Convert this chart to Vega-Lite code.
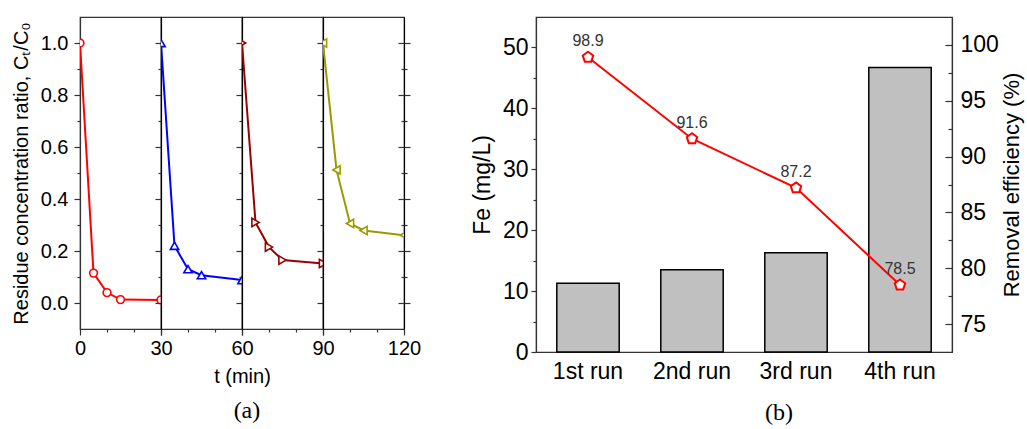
{
  "$schema": "https://vega.github.io/schema/vega-lite/v6.json",
  "padding": {"left": 10, "top": 16, "right": 3, "bottom": 2},
  "background": "white",
  "config": {
    "font": "Liberation Sans",
    "view": {"stroke": "#333", "strokeWidth": 1.2},
    "axis": {"grid": false, "labelColor": "#000", "titleColor": "#000", "titleFontWeight": "normal", "labelFlush": false, "labelOverlap": false, "domainColor": "#333", "tickColor": "#333", "domainWidth": 1.2, "tickWidth": 1.2}
  },
  "datasets": {
    "kinetics": [
      {"run": 1, "t": 0, "r": 1.0}, {"run": 1, "t": 5, "r": 0.115}, {"run": 1, "t": 10, "r": 0.04}, {"run": 1, "t": 15, "r": 0.013}, {"run": 1, "t": 30, "r": 0.012},
      {"run": 2, "t": 30, "r": 1.0}, {"run": 2, "t": 35, "r": 0.22}, {"run": 2, "t": 40, "r": 0.13}, {"run": 2, "t": 45, "r": 0.107}, {"run": 2, "t": 60, "r": 0.088},
      {"run": 3, "t": 60, "r": 1.0}, {"run": 3, "t": 65, "r": 0.31}, {"run": 3, "t": 70, "r": 0.215}, {"run": 3, "t": 75, "r": 0.165}, {"run": 3, "t": 90, "r": 0.152},
      {"run": 4, "t": 90, "r": 1.0}, {"run": 4, "t": 95, "r": 0.512}, {"run": 4, "t": 100, "r": 0.306}, {"run": 4, "t": 105, "r": 0.279}, {"run": 4, "t": 120, "r": 0.261}
    ],
    "runs": [
      {"run": "1st run", "fe": 11.3, "eff": 98.9},
      {"run": "2nd run", "fe": 13.5, "eff": 91.6},
      {"run": "3rd run", "fe": 16.3, "eff": 87.2},
      {"run": "4th run", "fe": 46.7, "eff": 78.5}
    ]
  },
  "hconcat": [
    {
      "hconcat": [
        {
          "width": 81, "height": 312,
          "data": {"name": "kinetics"},
          "transform": [{"filter": "datum.run === 1"}],
          "encoding": {
            "x": {"field": "t", "type": "quantitative", "scale": {"domain": [0, 30], "nice": false, "zero": false},
              "axis": {"values": [0, 10, 20, 30], "labelExpr": "datum.value % 30 === 0 ? datum.label : ''", "tickSize": {"condition": {"test": "datum.value % 30 === 0", "value": 6}, "value": 3}, "title": null, "labelFontSize": 20, "labelPadding": 3}},
            "y": {"field": "r", "type": "quantitative", "scale": {"domain": [-0.1, 1.1], "nice": false, "zero": false},
              "axis": {"values": [0, 0.1, 0.2, 0.3, 0.4, 0.5, 0.6, 0.7, 0.8, 0.9, 1.0], "labelExpr": "round(datum.value*10) % 2 === 0 ? format(datum.value, '.1f') : ''", "tickSize": {"condition": {"test": "round(datum.value*10) % 2 === 0", "value": 6}, "value": 3}, "title": "Residue concentration ratio, Cₜ/C₀", "labelFontSize": 20, "titleFontSize": 20, "labelPadding": 6, "titlePadding": 9}}
          },
          "layer": [
            {"mark": {"type": "line", "color": "#ff0000", "strokeWidth": 2, "clip": true}},
            {"mark": {"type": "point", "shape": "circle", "filled": true, "fill": "white", "stroke": "#ff0000", "strokeWidth": 1.6, "size": 60, "opacity": 1, "clip": true}}
          ]
        },
        {
          "width": 81, "height": 312,
          "data": {"name": "kinetics"},
          "transform": [{"filter": "datum.run === 2"}],
          "encoding": {
            "x": {"field": "t", "type": "quantitative", "scale": {"domain": [30, 60], "nice": false, "zero": false},
              "axis": {"values": [30, 40, 50, 60], "labelExpr": "datum.value === 60 ? datum.label : ''", "tickSize": {"condition": {"test": "datum.value % 30 === 0", "value": 6}, "value": 3}, "title": "t (min)", "titleX": 81, "titleAlign": "center", "titleFontSize": 20, "titlePadding": 8, "labelFontSize": 20, "labelPadding": 3}},
            "y": {"field": "r", "type": "quantitative", "scale": {"domain": [-0.1, 1.1], "nice": false, "zero": false},
              "axis": {"values": [0, 0.1, 0.2, 0.3, 0.4, 0.5, 0.6, 0.7, 0.8, 0.9, 1.0], "labels": false, "tickSize": {"condition": {"test": "round(datum.value*10) % 2 === 0", "value": 6}, "value": 3}, "title": null, "domainColor": "#000"}}
          },
          "layer": [
            {"mark": {"type": "line", "color": "#0000ff", "strokeWidth": 2, "clip": true}},
            {"mark": {"type": "point", "shape": "triangle-up", "filled": true, "fill": "white", "stroke": "#0000ff", "strokeWidth": 1.6, "size": 70, "opacity": 1, "clip": true}}
          ]
        },
        {
          "width": 81, "height": 312,
          "data": {"name": "kinetics"},
          "transform": [{"filter": "datum.run === 3"}],
          "encoding": {
            "x": {"field": "t", "type": "quantitative", "scale": {"domain": [60, 90], "nice": false, "zero": false},
              "axis": {"values": [60, 70, 80, 90], "labelExpr": "datum.value === 90 ? datum.label : ''", "tickSize": {"condition": {"test": "datum.value % 30 === 0", "value": 6}, "value": 3}, "title": null, "labelFontSize": 20, "labelPadding": 3}},
            "y": {"field": "r", "type": "quantitative", "scale": {"domain": [-0.1, 1.1], "nice": false, "zero": false},
              "axis": {"values": [0, 0.1, 0.2, 0.3, 0.4, 0.5, 0.6, 0.7, 0.8, 0.9, 1.0], "labels": false, "tickSize": {"condition": {"test": "round(datum.value*10) % 2 === 0", "value": 6}, "value": 3}, "title": null, "domainColor": "#000"}}
          },
          "layer": [
            {"mark": {"type": "line", "color": "#990000", "strokeWidth": 2, "clip": true}},
            {"mark": {"type": "point", "shape": "triangle-right", "filled": true, "fill": "white", "stroke": "#990000", "strokeWidth": 1.6, "size": 70, "opacity": 1, "clip": true}}
          ]
        },
        {
          "width": 81, "height": 312,
          "data": {"name": "kinetics"},
          "transform": [{"filter": "datum.run === 4"}],
          "encoding": {
            "x": {"field": "t", "type": "quantitative", "scale": {"domain": [90, 120], "nice": false, "zero": false},
              "axis": {"values": [90, 100, 110, 120], "labelExpr": "datum.value === 120 ? datum.label : ''", "tickSize": {"condition": {"test": "datum.value % 30 === 0", "value": 6}, "value": 3}, "title": null, "labelFontSize": 20, "labelPadding": 3}},
            "y": {"field": "r", "type": "quantitative", "scale": {"domain": [-0.1, 1.1], "nice": false, "zero": false},
              "axis": {"values": [0, 0.1, 0.2, 0.3, 0.4, 0.5, 0.6, 0.7, 0.8, 0.9, 1.0], "labels": false, "tickSize": {"condition": {"test": "round(datum.value*10) % 2 === 0", "value": 6}, "value": 3}, "title": null, "domainColor": "#000"}}
          },
          "layer": [
            {"mark": {"type": "line", "color": "#9a9a00", "strokeWidth": 2, "clip": true}},
            {"mark": {"type": "point", "shape": "triangle-left", "filled": true, "fill": "white", "stroke": "#9a9a00", "strokeWidth": 1.6, "size": 70, "opacity": 1, "clip": true}},
            {"mark": {"type": "point", "opacity": 0},
              "encoding": {"y": {"field": "r", "type": "quantitative", "scale": {"domain": [-0.1, 1.1], "nice": false, "zero": false},
                "axis": {"orient": "right", "values": [0, 0.1, 0.2, 0.3, 0.4, 0.5, 0.6, 0.7, 0.8, 0.9, 1.0], "labels": false, "title": null, "domain": false, "tickSize": {"condition": {"test": "round(datum.value*10) % 2 === 0", "value": -6}, "value": -3}}}}}
          ],
          "resolve": {"axis": {"y": "independent"}}
        }
      ],
      "spacing": 0,
      "bounds": "flush",
      "title": {"text": "(a)", "orient": "bottom", "anchor": "middle", "font": "Liberation Serif", "fontSize": 24, "fontWeight": "normal", "color": "#000", "dx": 31, "offset": 12}
    },
    {
      "width": 416, "height": 335,
      "data": {"name": "runs"},
      "encoding": {
        "x": {"field": "run", "type": "nominal", "sort": null, "scale": {"paddingInner": 0.4, "paddingOuter": 0.2},
          "axis": {"labelAngle": 0, "ticks": false, "title": null, "labelFontSize": 23, "labelPadding": 8}}
      },
      "layer": [
        {"mark": {"type": "bar", "fill": "#c0c0c0", "stroke": "#000", "strokeWidth": 1.5},
          "encoding": {"y": {"field": "fe", "type": "quantitative", "scale": {"domain": [0, 55], "nice": false},
            "axis": {"values": [0, 5, 10, 15, 20, 25, 30, 35, 40, 45, 50], "labelExpr": "datum.value % 10 === 0 ? datum.label : ''", "tickSize": {"condition": {"test": "datum.value % 10 === 0", "value": 5}, "value": 3}, "title": "Fe (mg/L)", "labelFontSize": 23, "titleFontSize": 23, "labelPadding": 3, "titlePadding": 8}}}},
        {
          "encoding": {"y": {"field": "eff", "type": "quantitative", "scale": {"domain": [72.5, 102.5], "nice": false, "zero": false},
            "axis": {"orient": "right", "values": [75, 77.5, 80, 82.5, 85, 87.5, 90, 92.5, 95, 97.5, 100], "labelExpr": "datum.value % 5 === 0 ? datum.label : ''", "tickSize": {"condition": {"test": "datum.value % 5 === 0", "value": -7}, "value": -4}, "title": "Removal efficiency (%)", "titleAngle": 270, "titleBaseline": "top", "labelFontSize": 23, "titleFontSize": 22, "labelPadding": 15, "titlePadding": 3}}},
          "layer": [
            {"mark": {"type": "line", "color": "#ff0000", "strokeWidth": 2}},
            {"mark": {"type": "point", "shape": "M0,-1L0.951,-0.309L0.588,0.809L-0.588,0.809L-0.951,-0.309Z", "filled": true, "fill": "white", "stroke": "#ff0000", "strokeWidth": 2, "size": 120, "opacity": 1}},
            {"mark": {"type": "text", "baseline": "bottom", "dy": -8, "fontSize": 16, "color": "#333"},
              "encoding": {"text": {"field": "eff", "type": "quantitative", "format": ".1f"}}}
          ]
        }
      ],
      "resolve": {"scale": {"y": "independent"}},
      "title": {"text": "(b)", "orient": "bottom", "anchor": "middle", "font": "Liberation Serif", "fontSize": 24, "fontWeight": "normal", "color": "#000", "dx": 35, "offset": 18}
    }
  ],
  "spacing": 48
}
